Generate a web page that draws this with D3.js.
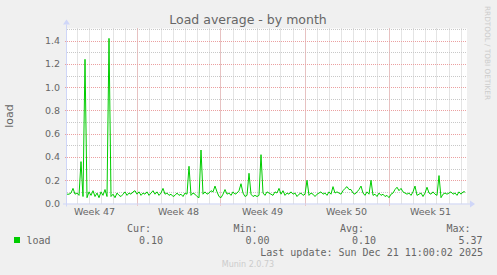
<!DOCTYPE html>
<html>
<head>
<meta charset="UTF-8">
<style>
  body { margin: 0; background: #f0f0f0; }
  svg { display: block; font-family: 'DejaVu Sans', sans-serif; }
  .mono { font-family: 'DejaVu Sans Mono', monospace; font-size: 10px; fill: #666666; }
</style>
</head>
<body>
<script src="https://d3js.org/d3.v7.min.js"></script>
<script>
// one sample every 4 hours, starting at the left edge of the graph
let firstSample = new Date(Date.UTC(2025, 10, 18, 5));
let sampleHours = 4;
let loadValues = [
  0.08, 0.08, 0.09, 0.13, 0.08, 0.09, 0.07, 0.36, 0.06, 1.24,
  0.05, 0.10, 0.07, 0.11, 0.06, 0.09, 0.05, 0.10, 0.07, 0.12,
  0.06, 1.42, 0.06, 0.08, 0.05, 0.09, 0.07, 0.06, 0.08, 0.10,
  0.07, 0.09, 0.08, 0.10,
  0.11, 0.08, 0.10, 0.07, 0.09, 0.08, 0.10, 0.07, 0.09, 0.11,
  0.08, 0.10, 0.07, 0.09, 0.13, 0.08, 0.09, 0.07, 0.08, 0.06,
  0.07, 0.09, 0.07, 0.08, 0.06, 0.09, 0.08, 0.32, 0.07, 0.09,
  0.08, 0.06, 0.05, 0.46,
  0.08, 0.10, 0.08, 0.09, 0.11, 0.10, 0.15, 0.10, 0.06, 0.05,
  0.08, 0.12, 0.08, 0.09, 0.07, 0.10, 0.08, 0.09, 0.11, 0.17,
  0.09, 0.06, 0.07, 0.26, 0.08, 0.06, 0.07, 0.06, 0.07, 0.42,
  0.09, 0.07, 0.10, 0.09,
  0.08, 0.07, 0.10, 0.09, 0.13, 0.08, 0.11, 0.07, 0.09, 0.08,
  0.10, 0.08, 0.09, 0.06, 0.08, 0.09, 0.07, 0.08, 0.20, 0.07,
  0.09, 0.08, 0.06, 0.08, 0.09, 0.10, 0.08, 0.09, 0.07, 0.10,
  0.08, 0.145, 0.09, 0.10,
  0.09, 0.08, 0.11, 0.13, 0.145, 0.12, 0.12, 0.09, 0.08, 0.10,
  0.12, 0.15, 0.09, 0.07, 0.10, 0.08, 0.20, 0.07, 0.08, 0.06,
  0.09, 0.07, 0.08, 0.06, 0.07, 0.05, 0.08, 0.09, 0.12, 0.14,
  0.11, 0.13, 0.10, 0.09,
  0.08, 0.09, 0.07, 0.10, 0.15, 0.07, 0.08, 0.09, 0.06, 0.09,
  0.14, 0.09, 0.08, 0.10, 0.08, 0.07, 0.24, 0.05, 0.08, 0.09,
  0.08, 0.09, 0.10, 0.08, 0.09, 0.07, 0.10, 0.08, 0.10, 0.10
];
let yTicks = [0, 0.2, 0.4, 0.6, 0.8, 1.0, 1.2, 1.4];
let legendHeads = ["Cur:", "Min:", "Avg:", "Max:"];
let legendValues = ["0.10", "0.00", "0.10", "5.37"];
let lastUpdate = "Last update: Sun Dec 21 11:00:02 2025";

let width = 497, height = 275;
let plotLeft = 67, plotRight = 467, plotTop = 28.5, plotBottom = 203.5;

let svg = d3.select("body").append("svg")
  .attr("width", width)
  .attr("height", height);

svg.append("rect").attr("width", width).attr("height", height).attr("fill", "#f0f0f0");
svg.append("rect")
  .attr("x", plotLeft).attr("y", plotTop)
  .attr("width", plotRight - plotLeft).attr("height", plotBottom - plotTop)
  .attr("fill", "#ffffff");

let endTime = d3.utcHour.offset(firstSample, 800);
let x = d3.scaleUtc().domain([firstSample, endTime]).range([plotLeft, plotRight]);
let y = d3.scaleLinear().domain([0, 1.505]).range([plotBottom, plotTop]);

// minor grid
let grid = svg.append("g");
grid.selectAll(".hmin")
  .data(d3.range(1, 16).map(d => d / 10))
  .enter().append("line")
  .attr("x1", plotLeft).attr("x2", plotRight)
  .attr("y1", d => Math.round(y(d)) + 0.5).attr("y2", d => Math.round(y(d)) + 0.5)
  .attr("stroke", "#c8c8c8").attr("stroke-dasharray", "1,1");
grid.selectAll(".vmin")
  .data(d3.utcDay.range(firstSample, endTime))
  .enter().append("line")
  .attr("x1", d => Math.round(x(d)) + 0.5).attr("x2", d => Math.round(x(d)) + 0.5)
  .attr("y1", plotTop).attr("y2", plotBottom)
  .attr("stroke", "#c8c8c8").attr("stroke-dasharray", "1,1");

// major grid
grid.selectAll(".hmaj")
  .data(yTicks.slice(1))
  .enter().append("line")
  .attr("x1", plotLeft - 2).attr("x2", plotRight)
  .attr("y1", d => Math.round(y(d)) + 0.5).attr("y2", d => Math.round(y(d)) + 0.5)
  .attr("stroke", "#eba0a0").attr("stroke-dasharray", "1,1");
let mondays = d3.utcMonday.range(firstSample, endTime);
grid.selectAll(".vmaj")
  .data(mondays)
  .enter().append("line")
  .attr("x1", d => Math.round(x(d)) + 0.5).attr("x2", d => Math.round(x(d)) + 0.5)
  .attr("y1", plotTop).attr("y2", plotBottom + 2)
  .attr("stroke", "#eba0a0").attr("stroke-dasharray", "1,1");

// axes
let axisColor = "#cfd6f8";
svg.append("line")
  .attr("x1", plotLeft - 4).attr("x2", plotRight + 3)
  .attr("y1", plotBottom + 0.5).attr("y2", plotBottom + 0.5)
  .attr("stroke", axisColor);
svg.append("line")
  .attr("x1", plotLeft - 0.5).attr("x2", plotLeft - 0.5)
  .attr("y1", plotBottom + 3).attr("y2", plotTop - 4)
  .attr("stroke", axisColor);
svg.append("path")
  .attr("d", `M${plotRight + 3},${plotBottom - 3} L${plotRight + 8},${plotBottom + 0.5} L${plotRight + 3},${plotBottom + 4} Z`)
  .attr("fill", axisColor);
svg.append("path")
  .attr("d", `M${plotLeft - 4},${plotTop - 4} L${plotLeft - 0.5},${plotTop - 9} L${plotLeft + 3},${plotTop - 4} Z`)
  .attr("fill", axisColor);

// y tick labels
svg.append("g").selectAll("text")
  .data(yTicks)
  .enter().append("text")
  .attr("x", 60)
  .attr("y", d => y(d) + 3.5)
  .attr("text-anchor", "end")
  .attr("font-size", "9.5px")
  .attr("fill", "#666666")
  .text(d => d.toFixed(1));

// week labels centred in each week
let weekStarts = d3.utcMonday.range(d3.utcMonday.floor(firstSample), endTime);
let weekFmt = d3.utcFormat("%V");
svg.append("g").selectAll("text")
  .data(weekStarts.filter(d => {
    let c = x(d3.utcHour.offset(d, 84));
    return c > plotLeft && c < plotRight;
  }))
  .enter().append("text")
  .attr("x", d => x(d3.utcHour.offset(d, 84)))
  .attr("y", 215)
  .attr("text-anchor", "middle")
  .attr("font-size", "9.5px")
  .attr("fill", "#666666")
  .text(d => "Week " + (+weekFmt(d)));

// the load line
let line = d3.line()
  .x((d, i) => x(d3.utcHour.offset(firstSample, i * sampleHours)))
  .y(d => y(d));
svg.append("path")
  .datum(loadValues)
  .attr("d", line)
  .attr("fill", "none")
  .attr("stroke", "#00cc00")
  .attr("stroke-width", 1);

// title and labels
svg.append("text")
  .attr("x", 248).attr("y", 24)
  .attr("text-anchor", "middle")
  .attr("font-size", "12.5px")
  .attr("fill", "#666666")
  .text("Load average - by month");

svg.append("text")
  .attr("transform", "translate(13,116) rotate(-90)")
  .attr("text-anchor", "middle")
  .attr("font-size", "11px")
  .attr("fill", "#666666")
  .text("load");

svg.append("text")
  .attr("transform", "translate(485,53) rotate(90)")
  .attr("text-anchor", "middle")
  .attr("font-size", "7.3px")
  .attr("fill", "#cccccc")
  .text("RRDTOOL / TOBI OETIKER");

// legend
let legend = svg.append("g");
legend.selectAll(".head")
  .data(legendHeads)
  .enter().append("text")
  .attr("class", "mono")
  .attr("x", (d, i) => 151 + i * 106.5)
  .attr("y", 231.5)
  .attr("text-anchor", "end")
  .text(d => d);
legend.selectAll(".val")
  .data(legendValues)
  .enter().append("text")
  .attr("class", "mono")
  .attr("x", (d, i) => 163 + i * 106.5)
  .attr("y", 243.5)
  .attr("text-anchor", "end")
  .text(d => d);
legend.append("rect")
  .attr("x", 14).attr("y", 237)
  .attr("width", 6).attr("height", 6)
  .attr("fill", "#00cc00");
legend.append("text")
  .attr("class", "mono")
  .attr("x", 26.5).attr("y", 243.5)
  .text("load");
legend.append("text")
  .attr("class", "mono")
  .attr("x", 483).attr("y", 255.5)
  .attr("text-anchor", "end")
  .text(lastUpdate);

svg.append("text")
  .attr("x", 248).attr("y", 267)
  .attr("text-anchor", "middle")
  .attr("font-size", "8px")
  .attr("fill", "#cccccc")
  .text("Munin 2.0.73");
</script>
</body>
</html>
